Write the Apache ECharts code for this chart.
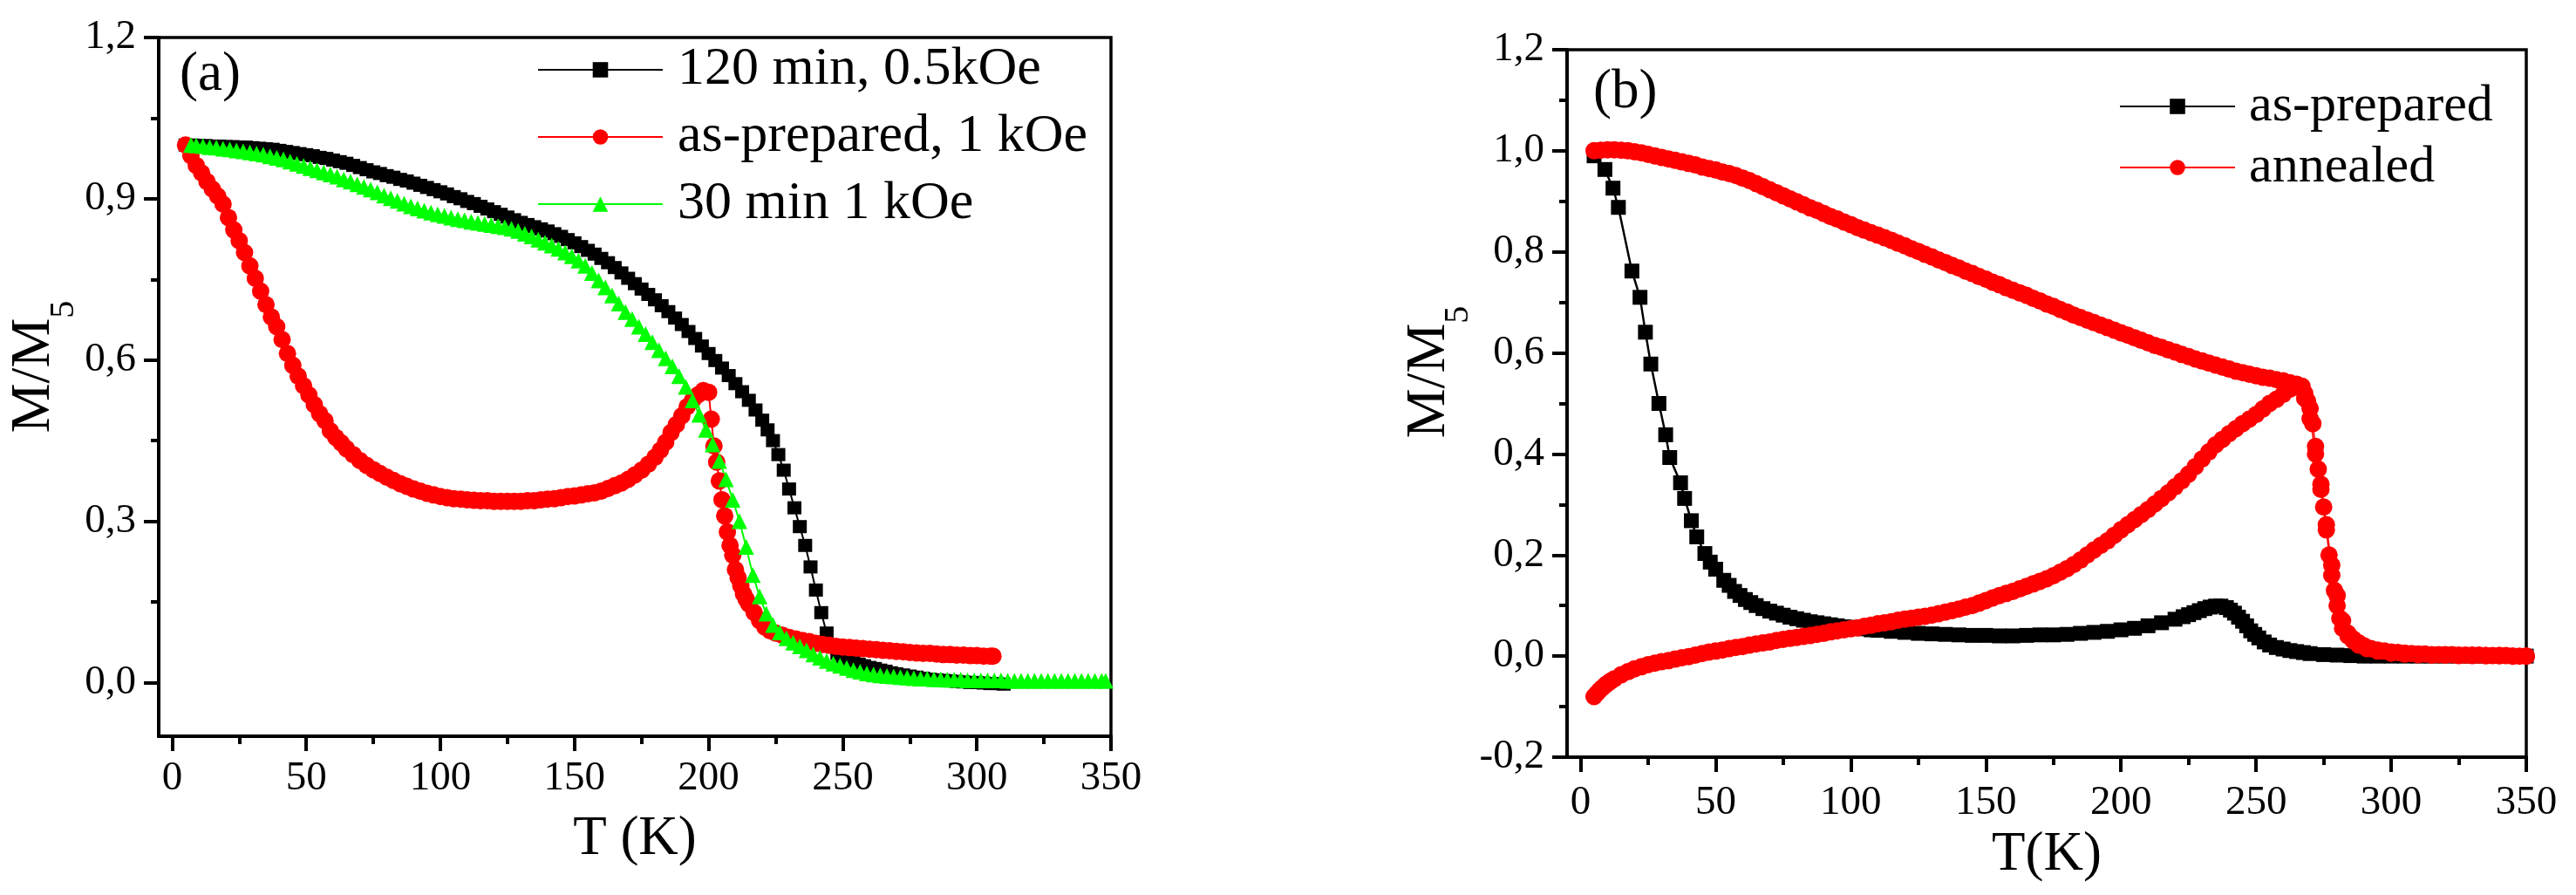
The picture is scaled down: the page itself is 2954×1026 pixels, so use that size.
<!DOCTYPE html>
<html>
<head>
<meta charset="utf-8">
<script src="https://cdn.jsdelivr.net/npm/echarts@6/dist/echarts.min.js"></script>
<style>
html,body{margin:0;padding:0;background:#fff;}
#chart{width:2954px;height:1026px;}
</style>
</head>
<body>
<div id="chart"></div>
<script>
// ---------- DATA (T in K, M/M5) ----------
// Panel (a)
const a_120min_05kOe = [[5,1.0],[7.5,1.0],[10,0.999],[12.5,0.999],[15,0.998],[17.5,0.998],[20,0.997],[22.5,0.997],[25,0.996],[27.5,0.996],[30,0.995],[32.5,0.994],[35,0.993],[37.5,0.992],[40,0.99],[42.5,0.988],[45,0.986],[47.5,0.984],[50,0.982],[52.5,0.98],[55,0.977],[57.5,0.975],[60,0.972],[62.5,0.969],[65,0.966],[67.5,0.962],[70,0.958],[72.5,0.954],[75,0.95],[77.5,0.947],[80,0.943],[82.5,0.94],[85,0.936],[87.5,0.933],[90,0.929],[92.5,0.925],[95,0.921],[97.5,0.917],[100,0.913],[102.5,0.909],[105,0.904],[107.5,0.9],[110,0.895],[112.5,0.891],[115,0.886],[117.5,0.881],[120,0.876],[122.5,0.871],[125,0.866],[127.5,0.861],[130,0.856],[132.5,0.852],[135,0.848],[137.5,0.844],[140,0.84],[142.5,0.835],[145,0.83],[147.5,0.824],[150,0.818],[152.5,0.811],[155,0.804],[157.5,0.797],[160,0.789],[162.5,0.781],[165,0.772],[167.5,0.762],[170,0.752],[172.5,0.742],[175,0.732],[177.5,0.722],[180,0.712],[182.5,0.701],[185,0.69],[187.5,0.678],[190,0.666],[192.5,0.653],[195,0.64],[197.5,0.626],[200,0.612],[202.5,0.599],[205,0.585],[207.5,0.571],[210,0.556],[212.5,0.541],[215,0.525],[217.5,0.507],[220,0.488],[222,0.47],[224,0.45],[226,0.424],[228,0.395],[230,0.36],[232,0.325],[234,0.29],[236,0.255],[238,0.215],[240,0.172],[242,0.13],[244,0.092],[246,0.068],[248,0.054],[250,0.046],[252,0.041],[254,0.037],[256,0.034],[258,0.031],[260,0.028],[262,0.026],[264,0.023],[266,0.021],[268,0.018],[270,0.016],[272.5,0.014],[275,0.012],[277.5,0.01],[280,0.008],[282.5,0.006],[285,0.005],[287.5,0.004],[290,0.003],[292.5,0.002],[295,0.001],[297.5,0.0],[300,0.0],[302.5,-0.001],[305,-0.002],[307.5,-0.002],[310,-0.003]];
const a_asPrepared_1kOe = [[5,1.0],[7,0.98],[9,0.962],[11,0.948],[13,0.932],[15,0.918],[17,0.905],[19,0.89],[21,0.865],[23,0.842],[25,0.822],[27,0.8],[29,0.775],[31,0.752],[33,0.728],[35,0.703],[37,0.68],[39,0.662],[41,0.638],[43,0.612],[45,0.59],[47,0.57],[49,0.552],[51,0.535],[53,0.517],[55,0.5],[57,0.487],[59,0.468],[61,0.456],[63,0.446],[65,0.435],[67.5,0.424],[70,0.413],[72.5,0.404],[75,0.396],[77.5,0.389],[80,0.382],[82.5,0.376],[85,0.37],[87.5,0.365],[90,0.36],[92.5,0.356],[95,0.352],[97.5,0.349],[100,0.346],[102.5,0.344],[105,0.342],[107.5,0.341],[110,0.34],[112.5,0.339],[115,0.338],[117.5,0.338],[120,0.337],[122.5,0.337],[125,0.337],[127.5,0.337],[130,0.337],[132.5,0.338],[135,0.338],[137.5,0.34],[140,0.341],[142.5,0.342],[145,0.344],[147.5,0.346],[150,0.347],[152.5,0.349],[155,0.351],[157.5,0.353],[160,0.356],[162.5,0.361],[165,0.366],[167.5,0.371],[170,0.378],[172.5,0.386],[175,0.395],[177.5,0.406],[180,0.419],[182,0.432],[184,0.447],[186,0.465],[188,0.48],[190,0.496],[192,0.513],[194,0.525],[196,0.535],[198,0.543],[200,0.54],[201,0.49],[202,0.44],[203,0.41],[204,0.375],[205,0.34],[206,0.31],[207,0.28],[208,0.255],[209,0.237],[210,0.21],[211,0.195],[212,0.18],[213,0.165],[214,0.155],[215,0.146],[217,0.13],[219,0.115],[221,0.103],[223,0.096],[225,0.092],[227.5,0.088],[230,0.084],[232.5,0.081],[235,0.078],[237.5,0.076],[240,0.073],[242.5,0.071],[245,0.069],[247.5,0.067],[250,0.066],[252.5,0.065],[255,0.064],[257.5,0.063],[260,0.062],[262.5,0.061],[265,0.06],[267.5,0.059],[270,0.058],[272.5,0.057],[275,0.056],[277.5,0.055],[280,0.054],[282.5,0.054],[285,0.053],[287.5,0.052],[290,0.052],[292.5,0.051],[295,0.051],[297.5,0.05],[300,0.05],[302.5,0.049],[305,0.049],[306,0.049]];
const a_30min_1kOe = [[7,1.0],[9,0.999],[11.5,0.998],[14,0.996],[16.5,0.995],[19,0.993],[21.5,0.992],[24,0.99],[26.5,0.988],[29,0.986],[31.5,0.984],[34,0.982],[36.5,0.979],[39,0.976],[41.5,0.973],[44,0.969],[46.5,0.965],[49,0.961],[51.5,0.957],[54,0.953],[56.5,0.949],[59,0.945],[61.5,0.941],[64,0.936],[66.5,0.932],[69,0.927],[71.5,0.922],[74,0.917],[76.5,0.912],[79,0.906],[81.5,0.901],[84,0.896],[86.5,0.891],[89,0.886],[91.5,0.882],[94,0.878],[96.5,0.874],[99,0.871],[101.5,0.868],[104,0.865],[106.5,0.862],[109,0.86],[111.5,0.857],[114,0.855],[116.5,0.853],[119,0.851],[121.5,0.849],[124,0.847],[126.5,0.844],[129,0.84],[131.5,0.835],[134,0.83],[136.5,0.824],[139,0.818],[141.5,0.813],[144,0.807],[146.5,0.8],[149,0.793],[151.5,0.785],[154,0.775],[156.5,0.762],[159,0.748],[161.5,0.735],[164,0.72],[166.5,0.705],[169,0.689],[171.5,0.676],[174,0.662],[176.5,0.648],[179,0.633],[181.5,0.618],[184,0.603],[186.5,0.588],[189,0.57],[191.5,0.55],[194,0.525],[196.5,0.498],[199,0.47],[201.5,0.443],[204,0.412],[206.5,0.378],[209,0.34],[211.5,0.3],[214,0.252],[216.5,0.2],[219,0.16],[221.5,0.128],[224,0.107],[226.5,0.093],[229,0.082],[231.5,0.074],[234,0.067],[236.5,0.06],[239,0.052],[241.5,0.046],[244,0.04],[246.5,0.035],[249,0.031],[251.5,0.027],[254,0.023],[256.5,0.02],[259,0.017],[261.5,0.015],[264,0.013],[266.5,0.012],[269,0.011],[271.5,0.01],[274,0.009],[276.5,0.008],[279,0.007],[281.5,0.007],[284,0.006],[286.5,0.006],[289,0.005],[291.5,0.005],[294,0.005],[296.5,0.004],[299,0.004],[301.5,0.004],[304,0.004],[306.5,0.004],[309,0.004],[311.5,0.003],[314,0.003],[316.5,0.003],[319,0.003],[321.5,0.003],[324,0.003],[326.5,0.003],[329,0.003],[331.5,0.003],[334,0.003],[336.5,0.003],[339,0.003],[341.5,0.003],[344,0.003],[346.5,0.003],[348,0.003]];

// Panel (b)
const b_asPrepared = [[5,0.99],[9,0.963],[12,0.926],[14,0.888],[19,0.762],[22,0.71],[24,0.641],[26,0.578],[29,0.5],[31.5,0.438],[33,0.393],[37,0.343],[38.5,0.312],[41,0.268],[43,0.236],[46,0.203],[48,0.186],[50,0.172],[53,0.15],[55,0.14],[57,0.128],[59,0.12],[61,0.112],[63,0.106],[65,0.1],[67.5,0.094],[70,0.089],[72.5,0.085],[75,0.081],[77.5,0.077],[80,0.074],[82.5,0.071],[85,0.068],[87.5,0.066],[90,0.064],[92.5,0.062],[95,0.06],[97.5,0.058],[100,0.057],[102.5,0.055],[105,0.054],[107.5,0.052],[110,0.051],[115,0.049],[120,0.047],[125,0.045],[130,0.044],[135,0.043],[140,0.042],[145,0.041],[150,0.041],[155,0.04],[160,0.04],[165,0.041],[170,0.042],[175,0.042],[180,0.043],[185,0.045],[190,0.047],[195,0.049],[200,0.052],[205,0.055],[210,0.06],[215,0.066],[220,0.073],[223,0.078],[225,0.082],[227,0.086],[229,0.09],[231,0.094],[233,0.097],[235,0.099],[237,0.099],[239,0.096],[240.5,0.091],[242,0.085],[243.5,0.077],[245,0.069],[246.5,0.06],[248,0.05],[249.5,0.043],[251,0.036],[253,0.028],[255,0.022],[257.5,0.017],[260,0.014],[262.5,0.011],[265,0.009],[267.5,0.007],[270,0.005],[275,0.003],[280,0.002],[285,0.001],[290,0.0],[295,0.0],[300,0.0],[305,0.0],[310,0.0],[315,0.0],[320,0.0],[325,0.0],[330,0.0],[335,0.0],[340,0.0],[345,0.0],[350,0.0]];
const b_annealed_zfc = [[5,-0.08],[6,-0.074],[7,-0.068],[8,-0.063],[9,-0.058],[10,-0.054],[11,-0.05],[12.5,-0.045],[15,-0.037],[17.5,-0.031],[20,-0.025],[22.5,-0.021],[25,-0.017],[27.5,-0.014],[30,-0.011],[32.5,-0.009],[35,-0.006],[37.5,-0.003],[40,-0.001],[42.5,0.002],[45,0.005],[47.5,0.008],[50,0.01],[52.5,0.012],[55,0.015],[57.5,0.017],[60,0.019],[62.5,0.022],[65,0.024],[67.5,0.026],[70,0.028],[72.5,0.031],[75,0.033],[77.5,0.035],[80,0.037],[82.5,0.039],[85,0.041],[87.5,0.043],[90,0.045],[92.5,0.048],[95,0.05],[97.5,0.052],[100,0.054],[102.5,0.056],[105,0.059],[107.5,0.061],[110,0.064],[112.5,0.066],[115,0.068],[117.5,0.071],[120,0.073],[122.5,0.075],[125,0.077],[127.5,0.079],[130,0.081],[132.5,0.084],[135,0.087],[137.5,0.09],[140,0.093],[142.5,0.097],[145,0.1],[147.5,0.105],[150,0.11],[152.5,0.115],[155,0.12],[157.5,0.124],[160,0.128],[162.5,0.133],[165,0.138],[167.5,0.143],[170,0.148],[172.5,0.153],[175,0.159],[177.5,0.166],[180,0.173],[182.5,0.181],[185,0.19],[187.5,0.2],[190,0.21],[192.5,0.219],[195,0.228],[197.5,0.239],[200,0.25],[202.5,0.26],[205,0.27],[207.5,0.28],[210,0.29],[212.5,0.301],[215,0.312],[217.5,0.323],[220,0.335],[222.5,0.347],[225,0.36],[227.5,0.375],[230,0.39],[232.5,0.404],[235,0.418],[237.5,0.429],[240,0.44],[242.5,0.45],[245,0.46],[247.5,0.469],[250,0.478],[252.5,0.489],[255,0.5],[257.5,0.508],[260,0.518],[262.5,0.528],[265,0.536],[267,0.534],[268,0.52],[269,0.505],[270,0.49],[271,0.46],[272,0.415],[273,0.37],[274,0.33],[275,0.295],[276,0.25],[277,0.2],[278,0.16],[279,0.13],[280,0.1],[281,0.075],[282,0.055],[284,0.04],[286,0.03],[288,0.022],[291,0.015],[295,0.01],[300,0.006],[305,0.004],[310,0.003],[315,0.002],[320,0.002],[325,0.001],[330,0.001],[335,0.001],[340,0.001],[345,0.0],[350,0.0]];
const b_annealed_fc = [[5,1.0],[7.5,1.001],[10,1.002],[12.5,1.002],[15,1.001],[17.5,1.0],[20,0.998],[22.5,0.996],[25,0.993],[27.5,0.99],[30,0.987],[32.5,0.984],[35,0.981],[37.5,0.978],[40,0.975],[42.5,0.972],[45,0.968],[47.5,0.965],[50,0.962],[52.5,0.958],[55,0.955],[57.5,0.951],[60,0.946],[62.5,0.941],[65,0.935],[67.5,0.929],[70,0.923],[72.5,0.917],[75,0.911],[77.5,0.905],[80,0.899],[82.5,0.893],[85,0.887],[87.5,0.882],[90,0.876],[92.5,0.87],[95,0.865],[97.5,0.859],[100,0.854],[102.5,0.848],[105,0.843],[107.5,0.838],[110,0.833],[112.5,0.828],[115,0.823],[117.5,0.817],[120,0.812],[122.5,0.806],[125,0.801],[127.5,0.795],[130,0.79],[132.5,0.784],[135,0.779],[137.5,0.773],[140,0.768],[142.5,0.762],[145,0.757],[147.5,0.751],[150,0.746],[152.5,0.74],[155,0.735],[157.5,0.729],[160,0.724],[162.5,0.719],[165,0.714],[167.5,0.708],[170,0.703],[172.5,0.697],[175,0.692],[177.5,0.686],[180,0.681],[182.5,0.675],[185,0.67],[187.5,0.665],[190,0.66],[192.5,0.655],[195,0.65],[197.5,0.645],[200,0.64],[202.5,0.635],[205,0.63],[207.5,0.625],[210,0.62],[212.5,0.615],[215,0.611],[217.5,0.606],[220,0.602],[222.5,0.597],[225,0.593],[227.5,0.588],[230,0.584],[232.5,0.58],[235,0.576],[237.5,0.572],[240,0.568],[242.5,0.564],[245,0.561],[247.5,0.558],[250,0.555],[252.5,0.552],[255,0.55],[257.5,0.547],[260,0.545],[262.5,0.541],[265,0.538],[266.5,0.532],[268,0.51],[270,0.47],[272,0.4],[274,0.34],[276,0.26],[278,0.18],[280,0.12],[282,0.07],[284,0.045],[286,0.034],[288,0.026],[290,0.02],[292.5,0.015],[295,0.012],[297.5,0.01],[300,0.008],[302.5,0.007],[305,0.006],[307.5,0.005],[310,0.004],[312.5,0.004],[315,0.003],[317.5,0.003],[320,0.003],[322.5,0.003],[325,0.002],[327.5,0.002],[330,0.002],[332.5,0.002],[335,0.001],[337.5,0.001],[340,0.001],[342.5,0.001],[345,0.0],[347.5,0.0],[350,0.0]];

// Tick values
const xMajorTicks = [0,50,100,150,200,250,300,350];
const xMinorTicks = [25,75,125,175,225,275,325];
const yMajorTicksA = [0,0.3,0.6,0.9,1.2];
const yMinorTicksA = [0.15,0.45,0.75,1.05];
const yMajorTicksB = [-0.2,0,0.2,0.4,0.6,0.8,1.0,1.2];
const yMinorTicksB = [-0.1,0.1,0.3,0.5,0.7,0.9,1.1];

// ---------- CHART ----------
const FONT = "'Liberation Serif', 'Times New Roman', Times, serif";
const BLACK = '#000000', RED = '#ff0000', GREEN = '#00ff00';
const fmt = v => {
  const s = (Math.round(v*10)/10).toFixed(1).replace('.', ',');
  return s === '-0,0' ? '0,0' : s;
};

function mainX(grid, name, gap, margin) {
  return {
    type:'value', gridIndex:grid, min:-5, max:350, position:'bottom',
    axisLine:{show:true, onZero:false, lineStyle:{color:BLACK, width:4}},
    axisTick:{show:true, customValues:xMajorTicks, length:17, lineStyle:{color:BLACK, width:4}},
    axisLabel:{show:true, customValues:xMajorTicks, margin:margin, fontFamily:FONT, fontSize:47, color:BLACK},
    splitLine:{show:false},
    name:name, nameLocation:'middle', nameGap:gap,
    nameTextStyle:{fontFamily:FONT, fontSize:63, color:BLACK}
  };
}
function minorX(grid) {
  return {
    type:'value', gridIndex:grid, min:-5, max:350, position:'bottom',
    axisLine:{show:false, onZero:false},
    axisTick:{show:true, customValues:xMinorTicks, length:9, lineStyle:{color:BLACK, width:4}},
    axisLabel:{show:false}, splitLine:{show:false}
  };
}
function mainY(grid, min, ticks, gap, pad) {
  return {
    type:'value', gridIndex:grid, min:min, max:1.2, position:'left',
    axisLine:{show:true, onZero:false, lineStyle:{color:BLACK, width:4}},
    axisTick:{show:true, customValues:ticks, length:17, lineStyle:{color:BLACK, width:4}},
    axisLabel:{show:true, customValues:ticks, margin:26, fontFamily:FONT, fontSize:47, color:BLACK, formatter:fmt},
    splitLine:{show:false},
    name:'{m|M/M}{s|5}', nameLocation:'middle', nameGap:gap, nameRotate:90,
    nameTextStyle:{fontFamily:FONT, fontSize:64, color:BLACK, padding:[0,0,0,pad],
      rich:{
        m:{fontFamily:FONT, fontSize:64, color:BLACK, lineHeight:64, verticalAlign:'top'},
        s:{fontFamily:FONT, fontSize:40, color:BLACK, lineHeight:40, verticalAlign:'top', padding:[46,0,0,0]}
      }}
  };
}
function minorY(grid, min, ticks) {
  return {
    type:'value', gridIndex:grid, min:min, max:1.2, position:'left',
    axisLine:{show:false, onZero:false},
    axisTick:{show:true, customValues:ticks, length:9, lineStyle:{color:BLACK, width:4}},
    axisLabel:{show:false}, splitLine:{show:false}
  };
}
function lineSeries(name, data, color, symbol, size, xi, yi, lw) {
  return {
    type:'line', name:name, data:data, xAxisIndex:xi, yAxisIndex:yi,
    symbol:symbol, symbolSize:size, showSymbol:true, showAllSymbol:true,
    itemStyle:{color:color}, lineStyle:{color:color, width:lw},
    emphasis:{disabled:true}, smooth:false
  };
}

const chart = echarts.init(document.getElementById('chart'), null, {renderer:'canvas'});
chart.setOption({
  animation:false,
  backgroundColor:'#ffffff',
  title:[
    {text:'(a)', left:201, top:50, textStyle:{fontFamily:FONT, fontSize:63, fontWeight:'normal', color:BLACK}},
    {text:'(b)', left:1822, top:70, textStyle:{fontFamily:FONT, fontSize:63, fontWeight:'normal', color:BLACK}}
  ],
  grid:[
    {left:182, top:43, width:1092, height:801, show:true, borderColor:BLACK, borderWidth:3.5, backgroundColor:'transparent'},
    {left:1797, top:57, width:1100, height:811, show:true, borderColor:BLACK, borderWidth:3.5, backgroundColor:'transparent'}
  ],
  legend:[
    {data:['120 min, 0.5kOe','as-prepared, 1 kOe','30 min 1 kOe'], orient:'vertical', left:616, top:49,
     itemWidth:143, itemHeight:22, itemGap:15, padding:0,
     textStyle:{fontFamily:FONT, fontSize:62, color:BLACK, lineHeight:62, padding:[0,0,0,12]}},
    {data:['as-prepared','annealed'], orient:'vertical', left:2430, top:92,
     itemWidth:132, itemHeight:22, itemGap:10, padding:0,
     textStyle:{fontFamily:FONT, fontSize:60, color:BLACK, lineHeight:60, padding:[0,0,0,11]}}
  ],
  xAxis:[ mainX(0,'T (K)',87,25), minorX(0), mainX(1,'T(K)',72,29), minorX(1) ],
  yAxis:[ mainY(0,-0.1,yMajorTicksA,87,46), minorY(0,-0.1,yMinorTicksA), mainY(1,-0.2,yMajorTicksB,106,72), minorY(1,-0.2,yMinorTicksB) ],
  series:[
    lineSeries('120 min, 0.5kOe', a_120min_05kOe, BLACK, 'rect', [16,15], 0, 0, 2),
    lineSeries('as-prepared, 1 kOe', a_asPrepared_1kOe, RED, 'circle', 20, 0, 0, 2),
    lineSeries('30 min 1 kOe', a_30min_1kOe, GREEN, 'triangle', 18, 0, 0, 2),
    lineSeries('as-prepared', b_asPrepared, BLACK, 'rect', 17, 2, 2, 2.5),
    lineSeries('annealed', b_annealed_zfc, RED, 'circle', 20, 2, 2, 1.5),
    lineSeries('annealed', b_annealed_fc, RED, 'circle', 20, 2, 2, 1.5)
  ]
});
</script>
</body>
</html>
